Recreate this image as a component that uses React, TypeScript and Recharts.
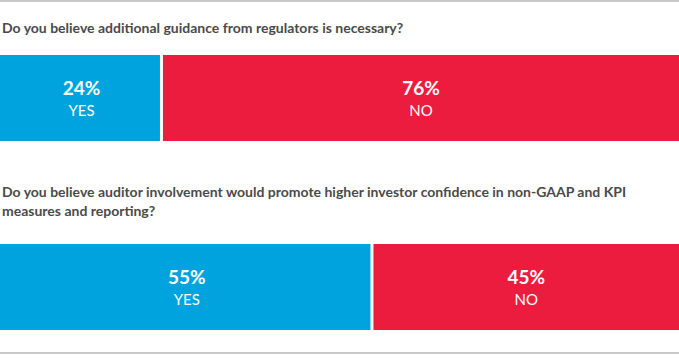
import React from "react";
import { BarChart, Bar, XAxis, YAxis, LabelList } from "recharts";

const questions = [
  "Do you believe additional guidance from regulators is necessary?",
  "Do you believe auditor involvement would promote higher investor confidence in non-GAAP and KPI measures and reporting?",
];
const yesValues = [24, 55];
const noValues = [76, 45];
const answerLabels = ["YES", "NO"];

const BLUE = "#00a3dd";
const RED = "#ec1c3e";
const FONT = "Lato, 'Open Sans', sans-serif";

// bar with a thin white gap on its right edge
const GapBar = (props: any) => {
  const { x, y, width, height, fill } = props;
  return <rect x={x} y={y} width={Math.max(width - 3, 0)} height={height} fill={fill} />;
};

const makeLabel = (answer: string) => (props: any) => {
  const { x, y, width, height, value } = props;
  const cx = x + width / 2;
  const cy = y + height / 2;
  return (
    <g fontFamily={FONT} fill="#fff" textAnchor="middle">
      <text x={cx} y={cy - 3} fontSize={19} fontWeight={700}>
        {value}%
      </text>
      <text x={cx} y={cy + 18} fontSize={15}>
        {answer}
      </text>
    </g>
  );
};

const QuestionBar = ({ idx }: { idx: number }) => {
  const data = [{ q: questions[idx], yes: yesValues[idx], no: noValues[idx] }];
  return (
    <BarChart
      width={679}
      height={86}
      data={data}
      layout="vertical"
      margin={{ top: 0, right: 0, bottom: 0, left: 0 }}
      barCategoryGap={0}
    >
      <XAxis type="number" domain={[0, 100]} hide />
      <YAxis type="category" dataKey="q" hide width={0} />
      <Bar dataKey="yes" stackId="a" fill={BLUE} shape={GapBar} isAnimationActive={false}>
        <LabelList dataKey="yes" content={makeLabel(answerLabels[0])} />
      </Bar>
      <Bar dataKey="no" stackId="a" fill={RED} isAnimationActive={false}>
        <LabelList dataKey="no" content={makeLabel(answerLabels[1])} />
      </Bar>
    </BarChart>
  );
};

const questionStyle: React.CSSProperties = {
  position: "absolute",
  left: 2,
  fontFamily: FONT,
  fontSize: 14,
  fontWeight: 700,
  color: "#4a4a4a",
  lineHeight: "19px",
};

export default function App() {
  return (
    <div style={{ position: "relative", width: 679, height: 359, background: "#fff", overflow: "hidden" }}>
      <style>{"body{margin:0}"}</style>
      <div style={{ position: "absolute", left: 0, top: 0, width: 679, height: 2, background: "#c8c8c8" }} />
      <div style={{ ...questionStyle, top: 18 }}>{questions[0]}</div>
      <div style={{ position: "absolute", left: 0, top: 55 }}>
        <QuestionBar idx={0} />
      </div>
      <div style={{ ...questionStyle, top: 182, width: 645 }}>{questions[1]}</div>
      <div style={{ position: "absolute", left: 0, top: 244 }}>
        <QuestionBar idx={1} />
      </div>
      <div style={{ position: "absolute", left: 0, top: 352, width: 679, height: 2, background: "#c8c8c8" }} />
    </div>
  );
}
